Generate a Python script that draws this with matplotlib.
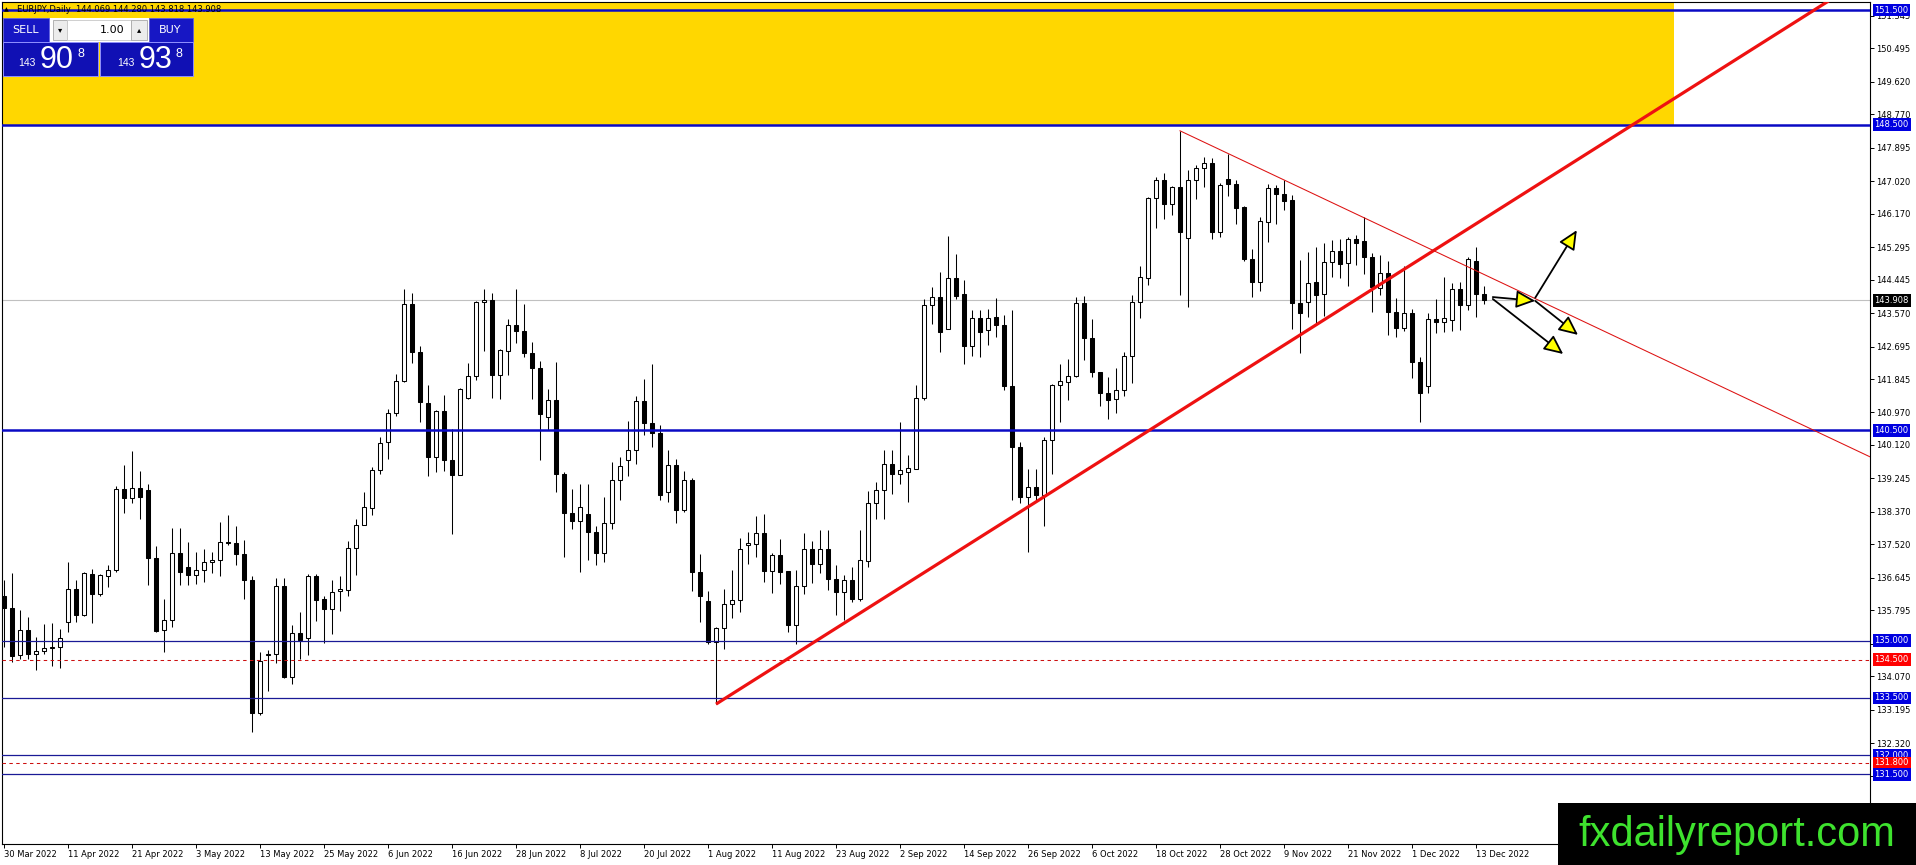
import matplotlib
matplotlib.use("Agg")
import matplotlib.pyplot as plt
from matplotlib.patches import Rectangle, FancyArrowPatch
import numpy as np

W, H, DPI = 1916, 865, 100

# ---------------- data ----------------
date_labels = ["30 Mar 2022", "11 Apr 2022", "21 Apr 2022", "3 May 2022", "13 May 2022",
               "25 May 2022", "6 Jun 2022", "16 Jun 2022", "28 Jun 2022", "8 Jul 2022",
               "20 Jul 2022", "1 Aug 2022", "11 Aug 2022", "23 Aug 2022", "2 Sep 2022",
               "14 Sep 2022", "26 Sep 2022", "6 Oct 2022", "18 Oct 2022", "28 Oct 2022",
               "9 Nov 2022", "21 Nov 2022", "1 Dec 2022", "13 Dec 2022"]
label_bars = [0, 8, 16, 24, 32, 40, 48, 56, 64, 72, 80, 88, 96, 104, 112, 120,
              128, 136, 144, 152, 160, 168, 176, 184]

opens = [136.16, 135.86, 134.62, 135.29, 134.64, 134.72, 134.81, 134.83, 135.50, 136.36,
         135.68, 136.75, 136.23, 136.68, 136.86, 138.97, 138.73, 139.00, 138.93, 137.17,
         135.27, 135.55, 137.30, 136.93, 136.73, 136.86, 137.05, 137.12, 137.58, 137.55,
         137.27, 136.59, 133.11, 134.62, 134.66, 136.42, 134.05, 135.21, 135.07, 136.68,
         136.10, 135.84, 136.29, 136.32, 137.43, 138.03, 138.48, 139.47, 140.19, 140.95,
         141.79, 143.80, 142.55, 141.22, 139.80, 141.02, 139.73, 139.34, 141.35, 141.93,
         143.87, 143.92, 141.96, 142.59, 143.27, 143.10, 142.52, 142.13, 140.84, 141.30,
         139.37, 138.34, 138.14, 138.32, 137.84, 137.29, 138.07, 139.21, 139.73, 139.99,
         141.26, 140.70, 140.44, 138.89, 139.60, 138.42, 139.21, 136.79, 136.05, 134.96,
         135.33, 135.96, 136.07, 137.49, 137.53, 137.82, 136.82, 137.25, 136.82, 135.40,
         136.44, 137.40, 137.01, 137.40, 136.62, 136.27, 136.59, 136.09, 137.08, 138.60,
         138.93, 139.63, 139.37, 139.41, 139.50, 141.36, 143.77, 143.99, 143.16, 144.50,
         144.06, 142.70, 143.45, 143.14, 143.48, 143.27, 141.66, 140.06, 138.75, 139.02,
         138.82, 140.26, 141.70, 141.78, 141.92, 143.83, 142.93, 142.03, 141.49, 141.32,
         141.56, 142.46, 143.85, 144.48, 146.57, 147.05, 146.42, 146.86, 145.53, 147.05,
         147.36, 147.49, 145.68, 147.07, 146.95, 146.34, 144.99, 144.39, 145.96, 146.84,
         146.68, 146.53, 143.83, 143.87, 144.39, 144.06, 144.92, 145.20, 144.89, 145.50,
         145.46, 145.05, 144.22, 144.61, 143.59, 143.19, 143.57, 142.30, 141.65, 143.41,
         143.35, 143.39, 144.19, 143.77, 144.94, 144.069]
highs = [136.59, 136.78, 135.81, 135.62, 135.10, 135.43, 135.46, 135.31, 137.07, 136.58,
         136.80, 136.88, 136.74, 136.97, 139.04, 139.60, 139.95, 139.43, 139.11, 137.47,
         136.10, 137.95, 137.95, 137.58, 137.32, 137.39, 137.32, 138.10, 138.28, 138.00,
         137.64, 136.68, 134.70, 134.76, 136.64, 136.64, 135.40, 135.75, 136.75, 136.74,
         136.18, 136.58, 136.68, 137.60, 138.19, 138.90, 139.54, 140.33, 141.07, 141.98,
         144.19, 144.10, 142.72, 141.70, 141.04, 141.44, 140.54, 141.62, 142.26, 143.90,
         144.19, 144.09, 142.63, 143.42, 144.21, 143.81, 142.81, 142.33, 141.59, 142.29,
         139.41, 138.98, 139.10, 139.10, 138.01, 138.75, 139.67, 139.80, 140.74, 141.39,
         141.85, 142.25, 140.63, 139.98, 139.76, 139.45, 139.26, 137.27, 136.31, 135.35,
         136.36, 136.85, 137.69, 137.84, 138.25, 138.32, 137.29, 137.66, 136.82, 136.84,
         137.82, 137.62, 137.90, 137.90, 136.99, 136.73, 136.94, 137.90, 138.91, 139.16,
         139.98, 139.98, 140.72, 139.85, 141.70, 143.95, 144.25, 144.64, 145.58, 145.12,
         144.43, 143.64, 143.66, 143.68, 143.97, 143.51, 143.64, 140.19, 139.50, 139.50,
         140.34, 141.72, 142.23, 142.38, 143.99, 144.03, 143.42, 142.04, 141.90, 142.13,
         142.56, 144.05, 144.80, 146.62, 147.14, 147.23, 146.90, 148.34, 147.31, 147.45,
         147.65, 147.62, 146.97, 147.73, 147.05, 146.37, 145.26, 146.08, 146.95, 146.92,
         147.04, 146.66, 144.96, 145.18, 145.31, 145.41, 145.48, 145.50, 145.57, 145.62,
         146.08, 145.13, 145.09, 144.94, 143.96, 144.80, 143.67, 142.42, 143.57, 143.93,
         144.52, 144.35, 144.39, 145.05, 145.29, 144.280]
lows = [134.83, 134.44, 134.53, 134.53, 134.24, 134.66, 134.35, 134.29, 135.23, 135.49,
        135.64, 135.47, 136.18, 136.40, 136.80, 138.34, 138.60, 138.19, 136.45, 135.23,
        134.70, 135.36, 136.45, 136.45, 136.49, 136.53, 136.77, 136.68, 137.50, 136.97,
        136.10, 132.61, 133.06, 133.68, 134.41, 134.03, 133.87, 134.53, 134.62, 135.51,
        134.94, 135.18, 135.77, 136.18, 136.73, 138.02, 138.30, 139.37, 139.76, 140.89,
        141.78, 142.26, 140.72, 139.30, 139.41, 139.45, 137.80, 139.33, 141.33, 141.83,
        142.59, 141.35, 141.33, 141.94, 142.78, 142.42, 141.33, 139.73, 140.52, 138.89,
        137.20, 137.93, 136.79, 137.10, 136.97, 137.05, 137.93, 138.68, 139.30, 139.63,
        140.37, 140.06, 138.68, 138.62, 138.07, 138.36, 136.31, 135.48, 134.92, 133.34,
        134.78, 135.60, 135.74, 137.01, 137.18, 136.53, 136.24, 136.49, 135.22, 134.90,
        136.21, 136.50, 136.77, 136.33, 135.68, 135.53, 136.00, 136.03, 136.92, 138.19,
        138.19, 138.84, 139.10, 138.62, 139.48, 141.29, 143.29, 142.55, 143.15, 143.95,
        142.23, 142.46, 142.42, 142.73, 142.94, 141.55, 138.67, 138.60, 137.32, 138.67,
        138.01, 139.37, 140.72, 141.29, 141.90, 142.35, 141.90, 141.13, 140.80, 140.95,
        141.39, 141.74, 143.43, 144.31, 145.79, 146.02, 146.14, 144.05, 143.72, 146.56,
        146.86, 145.50, 145.55, 146.63, 145.90, 144.94, 143.98, 144.16, 145.44, 145.90,
        146.27, 143.15, 142.52, 143.46, 143.32, 143.50, 144.52, 144.50, 144.28, 144.83,
        144.59, 143.59, 144.05, 143.00, 142.95, 143.11, 141.87, 140.71, 141.47, 143.04,
        143.08, 143.11, 143.13, 143.64, 143.46, 143.818]
closes = [135.86, 134.60, 135.29, 134.64, 134.72, 134.81, 134.83, 135.07, 136.36, 135.68,
          136.78, 136.23, 136.71, 136.86, 138.97, 138.73, 139.00, 138.76, 137.17, 135.25,
          135.53, 137.30, 136.80, 136.73, 136.86, 137.07, 137.12, 137.58, 137.55, 137.27,
          136.59, 133.11, 134.46, 134.64, 136.42, 134.05, 135.21, 135.01, 136.68, 136.07,
          135.84, 136.27, 136.36, 137.43, 138.03, 138.50, 139.47, 140.18, 140.95, 141.79,
          143.80, 142.55, 141.24, 139.80, 141.02, 139.73, 139.34, 141.59, 141.93, 143.87,
          143.92, 141.96, 142.61, 143.27, 143.10, 142.52, 142.13, 140.94, 141.30, 139.37,
          138.34, 138.14, 138.51, 137.84, 137.29, 138.07, 139.21, 139.58, 139.99, 141.26,
          140.70, 140.44, 138.82, 139.60, 138.42, 139.21, 136.79, 136.18, 134.96, 135.33,
          135.96, 136.07, 137.40, 137.55, 137.82, 136.82, 137.25, 136.79, 135.40, 136.44,
          137.40, 137.01, 137.40, 136.62, 136.27, 136.59, 136.09, 137.10, 138.60, 138.93,
          139.63, 139.37, 139.47, 139.52, 141.36, 143.79, 143.99, 143.07, 144.50, 144.03,
          142.70, 143.45, 143.07, 143.45, 143.27, 141.66, 140.06, 138.75, 139.02, 138.82,
          140.26, 141.70, 141.79, 141.92, 143.83, 142.93, 142.03, 141.49, 141.30, 141.56,
          142.46, 143.85, 144.51, 146.57, 147.05, 146.42, 146.86, 145.68, 147.05, 147.36,
          147.49, 145.68, 146.92, 146.94, 146.33, 144.99, 144.39, 145.99, 146.84, 146.68,
          146.51, 143.83, 143.57, 144.37, 144.05, 144.92, 145.20, 144.85, 145.50, 145.41,
          145.05, 144.25, 144.61, 143.59, 143.19, 143.57, 142.30, 141.49, 143.41, 143.35,
          143.43, 144.19, 143.77, 144.98, 144.06, 143.908]

price_ticks = [151.345, 150.495, 149.620, 148.770, 147.895, 147.020, 146.170, 145.295,
               144.445, 143.570, 142.695, 141.845, 140.970, 140.120, 139.245, 138.370,
               137.520, 136.645, 135.795, 134.920, 134.070, 133.195, 132.320, 131.470]
thick_levels = [151.5, 148.5, 140.5]
thin_levels = [135.0, 133.5, 132.0, 131.5]
dashed_levels = [134.5, 131.8]
current_price = 143.908
zone_prices = (148.5, 153.0)
zone_bars = (-5.0, 208.75)
up_trend = [(89, 133.34), (203.6, 148.5)]
down_trend = [(147, 148.34), (233.25, 139.81)]
arrow_paths = [((186.1, 143.99), (191.4, 143.89)),
               ((191.4, 143.97), (196.6, 145.74)),
               ((186.1, 143.94), (194.9, 142.50)),
               ((191.4, 143.89), (196.75, 143.00))]
title_text = "EURJPY,Daily  144.069 144.280 143.818 143.908"
sell_price = ("143", "90", "8")
buy_price = ("143", "93", "8")
lot_size = "1.00"

# ---------------- figure ----------------
fig = plt.figure(figsize=(W / DPI, H / DPI), dpi=DPI)
fig.patch.set_facecolor("white")
ax = fig.add_axes([2 / W, (H - 844) / H, 1868 / W, 842 / H])
ax.set_facecolor("white")
ax.set_xlim(-0.25, 233.25)
ax.set_ylim(129.68, 151.71)

# yellow zone
ax.add_patch(Rectangle((zone_bars[0], zone_prices[0]), zone_bars[1] - zone_bars[0],
                       zone_prices[1] - zone_prices[0], facecolor="#FFD700",
                       edgecolor="none", zorder=1))

# current price line
ax.axhline(current_price, color="#c0c0c0", lw=0.8, zorder=2)

# candles
x = np.arange(len(opens))
o = np.array(opens); c = np.array(closes); hi = np.array(highs); lo = np.array(lows)
ax.vlines(x, lo, hi, color="black", lw=0.75, zorder=4)
bull = c >= o
bottoms = np.minimum(o, c)
heights = np.maximum(np.abs(c - o), 0.015)
ax.bar(x, heights, bottom=bottoms, width=0.5,
       color=np.where(bull, "white", "black"), edgecolor="black", linewidth=0.75,
       zorder=5)

# horizontal levels
for lv in thick_levels:
    ax.axhline(lv, color="#0a0ac4", lw=1.8, zorder=7)
for lv in thin_levels:
    ax.axhline(lv, color="#1a1a96", lw=0.9, zorder=7)
for lv in dashed_levels:
    ax.axhline(lv, color="#cc1010", lw=0.75, ls=(0, (3.3, 3.3)), zorder=7)

# trend lines (extended rays)
def extend(p0, p1, x_end):
    slope = (p1[1] - p0[1]) / (p1[0] - p0[0])
    return [p0[0], x_end], [p0[1], p0[1] + slope * (x_end - p0[0])]

ux, uy = extend(up_trend[0], up_trend[1], 240)
ax.plot(ux, uy, color="#ee1111", lw=2.3, zorder=8, solid_capstyle="butt")
dx, dy = extend(down_trend[0], down_trend[1], 240)
ax.plot(dx, dy, color="#dd1111", lw=0.75, zorder=8)

# arrows
for (pa, pb) in arrow_paths:
    ax.add_patch(FancyArrowPatch(pa, pb, arrowstyle="-|>,head_length=0.65,head_width=0.3",
                                 mutation_scale=18, facecolor="#FFFF00", edgecolor="black",
                                 lw=1.3, shrinkA=0, shrinkB=0, zorder=9))

# axes styling
for sp in ax.spines.values():
    sp.set_color("black")
    sp.set_linewidth(0.8)
ax.yaxis.tick_right()
ax.set_yticks(price_ticks)
ax.set_yticklabels([f"{v:.3f}" for v in price_ticks])
ax.set_xticks(label_bars)
ax.set_xticklabels(date_labels, ha="left")
ax.tick_params(axis="y", direction="out", length=3, width=0.7, pad=1.5, labelsize=6,
               colors="black")
ax.tick_params(axis="x", direction="out", length=3, width=0.7, pad=1.5, labelsize=6,
               colors="black")

# level label boxes
yt = ax.get_yaxis_transform()
box_x = (1874.5 - 2) / 1868
level_boxes = [(151.5, "#0000e0"), (148.5, "#0000e0"), (140.5, "#0000e0"),
               (135.0, "#0000e0"), (134.5, "#ff0000"), (133.5, "#0000e0"),
               (132.0, "#0000e0"), (131.8, "#ff0000"), (131.5, "#0000e0")]
for lv, col in level_boxes:
    ax.text(box_x, lv, f"{lv:.3f}", transform=yt, ha="left", va="center", fontsize=6,
            color="white", clip_on=False, zorder=10,
            bbox=dict(boxstyle="square,pad=0.22", facecolor=col, edgecolor="none"))
ax.text(box_x, current_price, f"{current_price:.3f}", transform=yt, ha="left",
        va="center", fontsize=6, color="white", clip_on=False, zorder=11,
        bbox=dict(boxstyle="square,pad=0.22", facecolor="black", edgecolor="none"))

# ---------------- figure-level decorations (pixel helpers) ----------------
def fx(px):
    return px / W

def fy(py):
    return 1 - py / H

def prect(x0, y0, x1, y1, **kw):
    r = Rectangle((fx(x0), fy(y1)), (x1 - x0) / W, (y1 - y0) / H,
                  transform=fig.transFigure, **kw)
    fig.add_artist(r)
    return r

def ptext(px, py, s, **kw):
    return fig.text(fx(px), fy(py), s, **kw)

# title
ptext(4, 10, "\u25B2", fontsize=4.5, color="black", va="center", ha="left")
ptext(17, 10, title_text, fontsize=6, color="black", va="center", ha="left")

# one-click trading panel
blue = "#1717c4"
prect(49, 18, 149, 42, facecolor="white", edgecolor="none", zorder=5)
prect(3, 18, 49, 42, facecolor=blue, edgecolor="#6060e0", lw=0.6, zorder=6)
prect(149, 18, 193, 42, facecolor=blue, edgecolor="#6060e0", lw=0.6, zorder=6)
prect(53, 20, 67, 40, facecolor="#ececec", edgecolor="#a8a8a8", lw=0.6, zorder=6)
prect(67, 20, 131, 40, facecolor="white", edgecolor="#c8c8c8", lw=0.6, zorder=6)
prect(131, 20, 147, 40, facecolor="#ececec", edgecolor="#a8a8a8", lw=0.6, zorder=6)
prect(3, 42, 98, 76, facecolor="#1010b4", edgecolor="#9090ff", lw=0.7, zorder=6)
prect(100, 42, 193, 76, facecolor="#1010b4", edgecolor="#9090ff", lw=0.7, zorder=6)
ptext(26, 30, "SELL", fontsize=8, color="white", ha="center", va="center", zorder=7)
ptext(170, 30, "BUY", fontsize=8, color="white", ha="center", va="center", zorder=7)
ptext(60, 30, "\u25BE", fontsize=6, color="black", ha="center", va="center", zorder=7)
ptext(139, 30, "\u25B4", fontsize=6, color="black", ha="center", va="center", zorder=7)
ptext(124, 30, lot_size, fontsize=8, color="black", ha="right", va="center", zorder=7)

for (bx, (small, big, sup)) in [(0, sell_price), (99, buy_price)]:
    ptext(bx + 18, 66, small, fontsize=7.5, color="white", ha="left", va="baseline",
          zorder=7, family="Liberation Sans")
    ptext(bx + 40, 68, big, fontsize=22, color="white", ha="left", va="baseline",
          zorder=7, family="Liberation Sans")
    ptext(bx + 77, 57, sup, fontsize=9, color="white", ha="left", va="baseline",
          zorder=7, family="Liberation Sans")

# watermark
prect(1558, 803, 1917, 866, facecolor="black", edgecolor="none", zorder=20)
ptext(1737, 846, "fxdailyreport.com", fontsize=30, color="#3ee22e", ha="center",
      va="baseline", family="Liberation Sans", zorder=21)

fig.savefig("out.png", dpi=DPI, facecolor="white")
